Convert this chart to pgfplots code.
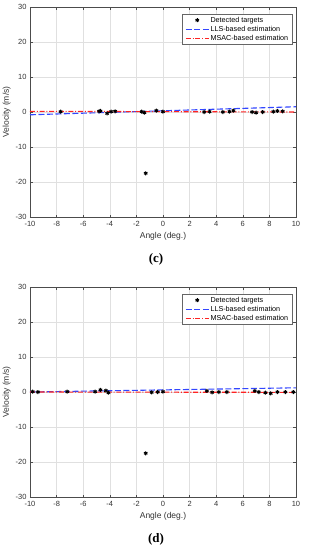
\documentclass[border=0pt]{standalone}
\usepackage{pgfplots}
\pgfplotsset{compat=1.18}
\usepackage{fontspec}
\setmainfont{Liberation Sans}
\newfontfamily\capfont{Liberation Serif}
\definecolor{lblue}{RGB}{50,70,255}
\definecolor{lred}{RGB}{255,35,35}
\pgfplotsset{myax/.style={
  width=266pt,height=210pt,scale only axis,
  xmin=-10,xmax=10,ymin=-30,ymax=30,
  xtick={-10,-8,...,10}, ytick={-30,-20,...,30},
  grid=major, grid style={black!12, line width=0.4pt},
  axis line style={black!70, line width=0.5pt},
  tick style={black!70, line width=0.4pt},
  tick align=inside, major tick length=2.5pt, tick pos=both,
  ticklabel style={font=\fontsize{7.5}{8}\selectfont, text=black!80},
  xticklabel style={yshift=-0.5pt},
  /pgf/number format/assume math mode=true,
  xlabel={Angle (deg.)}, ylabel={Velocity (m/s)},
  label style={font=\fontsize{8.5}{9}\selectfont, text=black!80},
  xlabel style={yshift=1pt},
  ylabel style={yshift=-2pt},
  legend style={at={(rel axis cs:0.987,0.967)}, anchor=north east,
    draw=black!60, line width=0.4pt, font=\fontsize{7.2}{8}\selectfont,
    inner xsep=3pt, inner ysep=1.5pt, row sep=0pt,
    nodes={inner sep=1.2pt}},
  legend cell align=left,
  legend image code/.code={\draw[mark repeat=2,mark phase=2,##1] plot coordinates {(0pt,0pt) (11.5pt,0pt) (23pt,0pt)};},
  anchor=north west,
}}
\begin{document}
\begin{tikzpicture}
\useasboundingbox (0,0) rectangle (309pt,-550pt);
\begin{axis}[myax, at={(30pt,-7pt)}]
\addplot[only marks, mark=asterisk, mark size=2pt, color=black, draw=black, line width=1pt] coordinates {
(-7.7,0.1) (-4.8,0.2) (-4.7,0.3) (-4.2,-0.4) (-3.9,0.1) (-3.6,0.2)
(-1.6,0.1) (-1.4,-0.2) (-0.5,0.4) (0.0,0.1)
(3.1,0.0) (3.5,0.1) (4.5,0.0) (5.0,0.1) (5.3,0.4)
(6.7,0.0) (7.0,-0.2) (7.5,0.0) (8.3,0.1) (8.6,0.3) (9.0,0.2)
(-1.3,-17.5)};
\addlegendentry{Detected targets}
\addplot[color=lblue, draw=lblue, line width=1.1pt, dash pattern=on 6pt off 2.5pt] coordinates {(-10,-0.8) (10,1.5)};
\addlegendentry{LLS-based estimation}
\addplot[color=lred, draw=lred, line width=1.1pt, dash pattern=on 5pt off 1.8pt on 1pt off 1.8pt] coordinates {(-10,0.2) (10,0.0)};
\addlegendentry{MSAC-based estimation}
\end{axis}
\node[font=\capfont\bfseries\fontsize{13}{14}\selectfont] at (156pt,-259pt) {(c)};
\begin{axis}[myax, at={(30pt,-287pt)}]
\addplot[only marks, mark=asterisk, mark size=2pt, color=black, draw=black, line width=1pt] coordinates {
(-9.8,0.1) (-9.4,0.0) (-7.2,0.1) (-5.1,0.1) (-4.7,0.6) (-4.3,0.4) (-4.1,-0.2)
(-0.85,-0.1) (-0.4,0.0) (0.0,0.1)
(3.3,0.3) (3.7,-0.1) (4.2,0.0) (4.8,0.0)
(6.9,0.3) (7.2,0.0) (7.7,-0.2) (8.1,-0.4) (8.6,0.0) (9.2,0.0) (9.8,0.0)
(-1.3,-17.5)};
\addlegendentry{Detected targets}
\addplot[color=lblue, draw=lblue, line width=1.1pt, dash pattern=on 6pt off 2.5pt] coordinates {(-10,0.0) (10,1.2)};
\addlegendentry{LLS-based estimation}
\addplot[color=lred, draw=lred, line width=1.1pt, dash pattern=on 5pt off 1.8pt on 1pt off 1.8pt] coordinates {(-10,0.0) (10,-0.1)};
\addlegendentry{MSAC-based estimation}
\end{axis}
\node[font=\capfont\bfseries\fontsize{13}{14}\selectfont] at (156pt,-539pt) {(d)};
\end{tikzpicture}
\end{document}
